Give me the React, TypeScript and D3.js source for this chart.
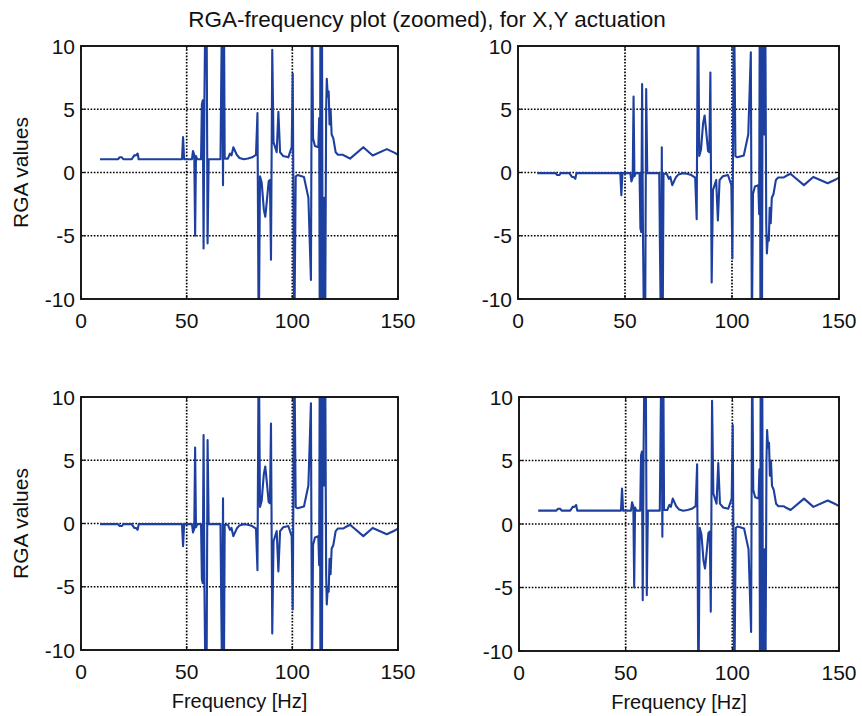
import React from "react";
import * as d3 from "d3";

const title = "RGA-frequency plot (zoomed), for X,Y actuation";
const yLabel = "RGA values";
const xLabel = "Frequency [Hz]";
const xTicks = [0, 50, 100, 150];
const yTicks = [-10, -5, 0, 5, 10];
const xGrid = [50, 100];
const yGrid = [-5, 0, 5];

const freq = [9, 17.5, 18.3, 19.3, 20.0, 24.0, 25.2, 26.0, 26.8, 27.3, 47.8, 48.3, 48.8, 52.5, 53.0, 53.6, 54.0, 54.4, 55.0, 56.8, 57.2, 57.6, 58.0, 58.4, 58.9, 59.4, 59.9, 60.4, 66.0, 66.4, 66.8, 67.2, 67.6, 68.0, 69.5, 70.5, 71.2, 72.1, 73.7, 75.0, 77.0, 79.0, 81.0, 82.8, 83.5, 84.1, 84.7, 85.5, 86.5, 87.2, 87.8, 88.8, 89.4, 89.9, 90.5, 91.1, 92.6, 93.4, 94.2, 95.7, 98.1, 99.7, 100.2, 100.9, 101.6, 102.5, 105.5, 107.6, 108.8, 109.3, 109.8, 110.7, 112.3, 112.7, 113.0, 113.3, 113.7, 114.0, 114.4, 115.0, 115.5, 116.0, 116.3, 116.8, 117.2, 117.6, 118.1, 118.6, 119.4, 120.5, 121.6, 124.0, 125.0, 127.3, 133.6, 138.0, 144.7, 148.5, 150];

const rga11 = [1.05, 1.05, 1.2, 1.2, 1.05, 1.05, 1.35, 1.35, 1.5, 1.05, 1.05, 2.8, 1.05, 1.05, 1.7, 1.4, -5.0, 1.3, 1.05, 1.05, 5.4, 5.7, -6.0, 5.8, 14, 14, -5.6, 1.05, 1.05, 8.0, 14, -1.0, 14, 1.1, 1.1, 1.5, 1.35, 2.0, 1.4, 1.15, 1.05, 1.1, 1.2, 1.4, 4.7, -14, -0.3, -0.8, -2.9, -3.5, -2.5, -0.7, -0.6, -6.9, 9.7, 2.4, 1.6, 4.8, 1.6, 1.3, 1.2, 2.0, 7.8, -14, -0.3, -0.2, -0.35, -2.0, -8.5, 14, 2.7, 2.1, 2.0, 4.3, -14, 14, -14, 14, -14, -2.0, -14, 5.0, 7.4, 6.0, 6.4, 3.8, 5.0, 3.0, 2.7, 1.6, 1.4, 1.4, 1.3, 1.1, 2.0, 1.35, 1.85, 1.55, 1.4];

const rga12 = [-0.05, -0.05, -0.2, -0.2, -0.05, -0.05, -0.35, -0.35, -0.5, -0.05, -0.05, -1.8, -0.05, -0.05, -0.7, -0.4, 6.0, -0.3, -0.05, -0.05, -4.4, -4.7, 7.0, -4.8, -13, -13, 6.6, -0.05, -0.05, -7.0, -13, 2.0, -13, -0.1, -0.1, -0.5, -0.35, -1.0, -0.4, -0.15, -0.05, -0.1, -0.2, -0.4, -3.7, 15, 1.3, 1.8, 3.9, 4.5, 3.5, 1.7, 1.6, 7.9, -8.7, -1.4, -0.6, -3.8, -0.6, -0.3, -0.2, -1.0, -6.8, 15, 1.3, 1.2, 1.35, 3.0, 9.5, -13, -1.7, -1.1, -1.0, -3.3, 15, -13, 15, -13, 15, 3.0, 15, -4.0, -6.4, -5.0, -5.4, -2.8, -4.0, -2.0, -1.7, -0.6, -0.4, -0.4, -0.3, -0.1, -1.0, -0.35, -0.85, -0.55, -0.4];

const FONT = "'Liberation Sans', Arial, Helvetica, sans-serif";
const LINE = "#1d3f9f";

type PanelProps = {
  id: string;
  x0: number;
  y0: number;
  w: number;
  h: number;
  values: number[];
  showY: boolean;
  showX: boolean;
};

function Panel({ id, x0, y0, w, h, values, showY, showX }: PanelProps) {
  const xs = d3.scaleLinear().domain([0, 150]).range([x0, x0 + w]);
  const ys = d3.scaleLinear().domain([-10, 10]).range([y0 + h, y0]);
  const line = d3
    .line<number>()
    .x((_, i) => xs(freq[i]))
    .y((d) => ys(d));
  const tick = 4;
  return (
    <g>
      <defs>
        <clipPath id={id}>
          <rect x={x0} y={y0} width={w} height={h} />
        </clipPath>
      </defs>
      <rect x={x0} y={y0} width={w} height={h} fill="white" />
      {xGrid.map((g) => (
        <line key={"gx" + g} x1={xs(g)} x2={xs(g)} y1={y0} y2={y0 + h} stroke="#000" strokeWidth={1.7} strokeDasharray="1.6,1.6" />
      ))}
      {yGrid.map((g) => (
        <line key={"gy" + g} x1={x0} x2={x0 + w} y1={ys(g)} y2={ys(g)} stroke="#000" strokeWidth={1.7} strokeDasharray="1.6,1.6" />
      ))}
      {xTicks.map((t) => (
        <g key={"tx" + t}>
          <line x1={xs(t)} x2={xs(t)} y1={y0 + h} y2={y0 + h - tick} stroke="#111" strokeWidth={1.2} />
          <line x1={xs(t)} x2={xs(t)} y1={y0} y2={y0 + tick} stroke="#111" strokeWidth={1.2} />
          <text x={xs(t)} y={y0 + h + 29} textAnchor="middle" fontFamily={FONT} fontSize={21} fill="#111">
            {t}
          </text>
        </g>
      ))}
      {yTicks.map((t) => (
        <g key={"ty" + t}>
          <line x1={x0} x2={x0 + tick} y1={ys(t)} y2={ys(t)} stroke="#111" strokeWidth={1.2} />
          <line x1={x0 + w} x2={x0 + w - tick} y1={ys(t)} y2={ys(t)} stroke="#111" strokeWidth={1.2} />
          <text x={x0 - 6} y={ys(t) + 7.5} textAnchor="end" fontFamily={FONT} fontSize={21} fill="#111">
            {t}
          </text>
        </g>
      ))}
      <path d={line(values) || ""} fill="none" stroke={LINE} strokeWidth={2.1} strokeLinejoin="round" clipPath={`url(#${id})`} />
      <rect x={x0} y={y0} width={w} height={h} fill="none" stroke="#111" strokeWidth={1.9} />
      {showY && (
        <text
          transform={`translate(${x0 - 53},${y0 + h / 2}) rotate(-90)`}
          textAnchor="middle"
          fontFamily={FONT}
          fontSize={21}
          fill="#111"
        >
          {yLabel}
        </text>
      )}
      {showX && (
        <text x={x0 + w / 2} y={y0 + h + 58} textAnchor="middle" fontFamily={FONT} fontSize={20} fill="#111">
          {xLabel}
        </text>
      )}
    </g>
  );
}

export default function App() {
  return (
    <svg
      width={862}
      height={716}
      viewBox="0 0 862 716"
      style={{ position: "absolute", left: 0, top: 0, background: "white" }}
    >
      <rect x={0} y={0} width={862} height={716} fill="white" />
      <text x={427} y={27} textAnchor="middle" fontFamily={FONT} fontSize={22.5} fill="#111">
        {title}
      </text>
      <Panel id="c1" x0={81} y0={46} w={317} h={253} values={rga11} showY={true} showX={false} />
      <Panel id="c2" x0={518} y0={46} w={321} h={253} values={rga12} showY={false} showX={false} />
      <Panel id="c3" x0={81} y0={397} w={317} h={253} values={rga12} showY={true} showX={true} />
      <Panel id="c4" x0={519} y0={397} w={320} h={254} values={rga11} showY={false} showX={true} />
    </svg>
  );
}
